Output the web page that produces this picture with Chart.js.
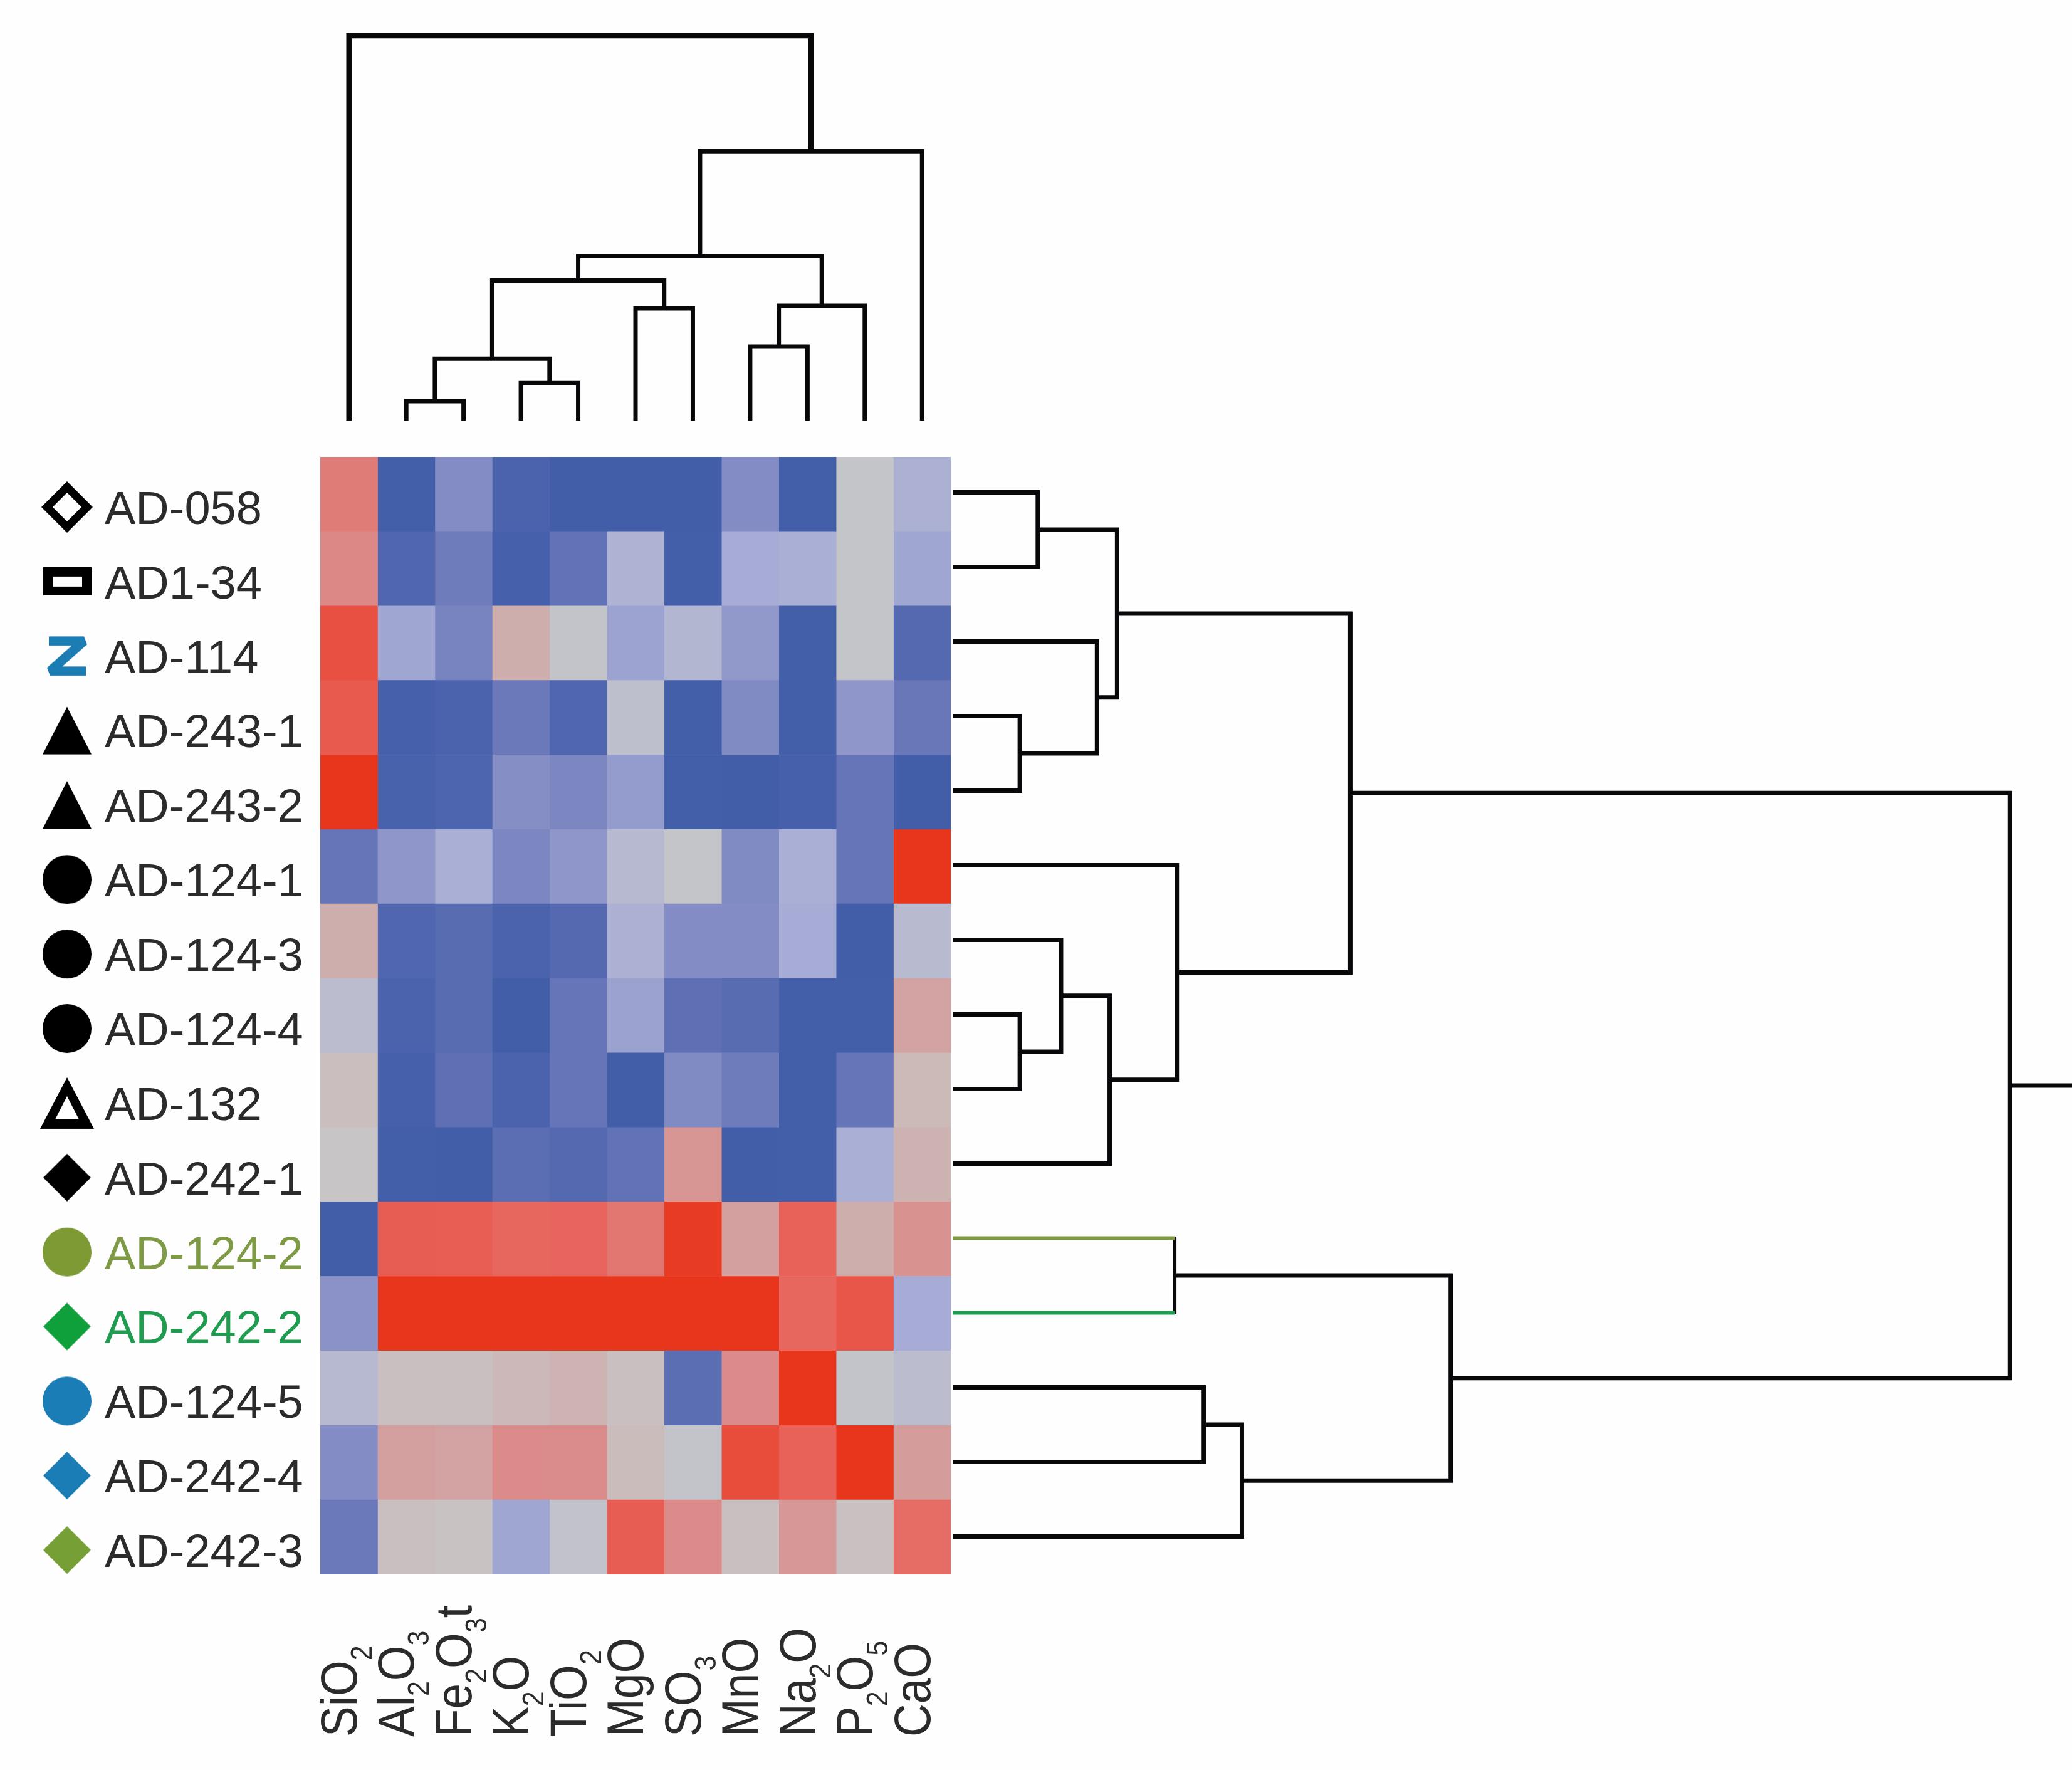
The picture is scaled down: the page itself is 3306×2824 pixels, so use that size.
<!DOCTYPE html>
<html>
<head>
<meta charset="utf-8">
<title>Oxide heatmap</title>
<script src="https://cdn.jsdelivr.net/npm/chart.js@4"></script>
<style>
  html, body { margin: 0; padding: 0; background: #fefefe; }
  #page { position: relative; width: 3306px; height: 2824px; overflow: hidden; }
  canvas { position: absolute; display: block; }
</style>
</head>
<body>
<div id="page">
  <canvas id="heat" width="1600" height="2824" style="left:0;top:0"></canvas>
  <canvas id="marks" width="110" height="2824" style="left:52px;top:0"></canvas>
  <canvas id="topTree" width="1040" height="660" style="left:500px;top:30px"></canvas>
  <canvas id="sideTree" width="1806" height="1860" style="left:1500px;top:700px"></canvas>
</div>
<script>
const oxides = ['SiO2', 'Al2O3', 'Fe2O3t', 'K2O', 'TiO2', 'MgO', 'SO3', 'MnO', 'Na2O', 'P2O5', 'CaO'];
const samples = ['AD-058', 'AD1-34', 'AD-114', 'AD-243-1', 'AD-243-2', 'AD-124-1', 'AD-124-3', 'AD-124-4',
                 'AD-132', 'AD-242-1', 'AD-124-2', 'AD-242-2', 'AD-124-5', 'AD-242-4', 'AD-242-3'];

// one row per sample, same order as oxides, -1 (blue) to 1 (red)
const cellValues = [
  [ .58, -.97, -.50, -.92, -.98, -.98, -.98, -.50, -.97, -.02, -.20],
  [ .50, -.88, -.65, -.95, -.75, -.18, -.97, -.25, -.22, -.02, -.30],
  [ .85, -.30, -.58,  .22, -.03, -.32, -.15, -.40, -.97, -.02, -.85],
  [ .80, -.95, -.92, -.68, -.88, -.07, -.97, -.52, -.97, -.42, -.70],
  [1.00, -.93, -.90, -.48, -.55, -.38, -.97, -.98, -.95, -.72, -.98],
  [-.72, -.42, -.22, -.55, -.42, -.12, -.02, -.52, -.22, -.72, 1.00],
  [ .22, -.88, -.82, -.92, -.85, -.20, -.50, -.50, -.25, -.98, -.10],
  [-.08, -.92, -.82, -.98, -.72, -.33, -.78, -.82, -.97, -.97,  .30],
  [ .08, -.95, -.78, -.92, -.72, -.98, -.52, -.65, -.97, -.72,  .12],
  [ .02, -.97, -.98, -.80, -.85, -.75,  .40, -.98, -.97, -.22,  .18],
  [-.98,  .78,  .77,  .72,  .73,  .62,  .97,  .32,  .75,  .22,  .42],
  [-.45, 1.00, 1.00, 1.00, 1.00, 1.00, 1.00, 1.00,  .72,  .82, -.25],
  [-.12,  .07,  .07,  .13,  .17,  .07, -.80,  .48, 1.00, -.03, -.08],
  [-.50,  .32,  .30,  .48,  .47,  .10, -.03,  .87,  .75, 1.00,  .35],
  [-.68,  .07,  .05, -.30, -.04,  .78,  .48,  .07,  .38,  .06,  .68]
];

// linkage tables: [child a, child b, height]; ids >= leaf count point at earlier merges
const oxideMerges = [
  [1, 2, 1.01], [3, 4, 1.95], [11, 12, 3.22], [5, 6, 5.83], [13, 14, 7.28],
  [7, 8, 3.84], [16, 9, 5.96], [15, 17, 8.55], [18, 10, 14.0], [0, 19, 20.0]
];
const sampleMerges = [
  [0, 1, 1.61], [3, 4, 1.27], [2, 16, 2.73], [15, 17, 3.11], [7, 8, 1.27],
  [6, 19, 2.05], [20, 9, 2.97], [5, 21, 4.24], [18, 22, 7.52], [10, 11, 4.20],
  [12, 13, 4.75], [25, 14, 5.47], [24, 26, 9.42], [23, 27, 20.0]
];

const sampleSymbols = ['diamondOpen', 'rectOpen', 'zed', 'triangle', 'triangle', 'circle', 'circle', 'circle',
                       'triangleOpen', 'diamond', 'circle', 'diamond', 'circle', 'diamond', 'diamond'];

const INK = '#08080b';
const TEXT = '#2b2b2b';
const OLIVE = '#7f9a45';
const GREEN = '#1f9c50';
const symbolColors = ['#000', '#000', '#1b7db4', '#000', '#000', '#000', '#000', '#000', '#000', '#000', '#7d9a35', '#0fa03c', '#1a7db5', '#1a7db5', '#76a035'];
const labelColors = samples.map(function (s) {
  return s === 'AD-124-2' ? OLIVE : s === 'AD-242-2' ? GREEN : TEXT;
});
const leafColors = { 10: OLIVE, 11: GREEN };

const colorStops = [
  [-1, [63, 92, 168]], [-.75, [98, 114, 182]], [-.5, [131, 140, 196]], [-.25, [166, 172, 214]],
  [-.1, [184, 187, 207]], [0, [199, 199, 200]], [.1, [203, 188, 188]], [.25, [207, 170, 169]],
  [.5, [220, 136, 134]], [.75, [232, 98, 90]], [1, [232, 54, 28]]
];

function cellColor(v) {
  for (var i = 1; i < colorStops.length; i++) {
    if (v <= colorStops[i][0]) {
      var a = colorStops[i - 1], b = colorStops[i];
      var t = (v - a[0]) / (b[0] - a[0]);
      var rgb = a[1].map(function (c, k) { return Math.round(c + (b[1][k] - c) * t); });
      return 'rgb(' + rgb.join(',') + ')';
    }
  }
  return 'rgb(232,54,28)';
}

function polygon(g, pts) {
  g.moveTo(pts[0][0], pts[0][1]);
  pts.slice(1).forEach(function (p) { g.lineTo(p[0], p[1]); });
  g.closePath();
}

function diamondPts(r) { return [[0, -r], [r, 0], [0, r], [-r, 0]]; }

// marker images, used as pointStyle on the scatter dataset
function makeSymbol(kind, color) {
  var c = document.createElement('canvas');
  c.width = 100; c.height = 100;
  var g = c.getContext('2d');
  g.translate(50, 50);
  g.fillStyle = color;
  g.strokeStyle = color;
  g.beginPath();
  if (kind === 'circle') {
    g.arc(0, 0, 39, 0, Math.PI * 2);
    g.fill();
  } else if (kind === 'diamond') {
    polygon(g, diamondPts(38));
    g.fill();
  } else if (kind === 'diamondOpen') {
    polygon(g, diamondPts(41));
    polygon(g, diamondPts(23));
    g.fill('evenodd');
  } else if (kind === 'rectOpen') {
    g.rect(-38, -23, 77, 45);
    g.rect(-23, -8, 47, 16);
    g.fill('evenodd');
  } else if (kind === 'triangle') {
    polygon(g, [[0, -38], [39, 38], [-39, 38]]);
    g.fill();
  } else if (kind === 'triangleOpen') {
    polygon(g, [[0, -41], [43, 41], [-43, 41]]);
    polygon(g, [[0, -11], [19, 26], [-19, 26]]);
    g.fill('evenodd');
  } else if (kind === 'zed') {
    g.lineWidth = 15;
    g.lineJoin = 'bevel';
    g.moveTo(-29, -24);
    g.lineTo(27, -24);
    g.lineTo(-27, 24);
    g.lineTo(30, 24);
    g.stroke();
  }
  return c;
}

// oxide names, digits set as subscripts, drawn under the columns reading upwards
const oxideLabels = {
  id: 'oxideLabels',
  afterDraw: function (chart) {
    var ctx = chart.ctx;
    var xs = chart.scales.x;
    var bottom = 2771;
    ctx.save();
    ctx.fillStyle = TEXT;
    ctx.textBaseline = 'alphabetic';
    ctx.textAlign = 'left';
    oxides.forEach(function (name, i) {
      var run = 0;
      name.match(/\d|\D+/g).forEach(function (part) {
        var sub = /\d/.test(part);
        ctx.save();
        ctx.translate(xs.getPixelForValue(i) + 58, bottom);
        ctx.rotate(-Math.PI / 2);
        ctx.font = (sub ? 43 : 73) + 'px "Liberation Sans"';
        var w = ctx.measureText(part).width;
        // the picture's glyphs stand a little taller than the font's
        ctx.translate(run, sub ? 24 : 0);
        ctx.scale(1, sub ? 1.1 : 1.12);
        ctx.fillText(part, 0, 0);
        run += w;
        ctx.restore();
      });
    });
    ctx.restore();
  }
};

var heatSets = oxides.map(function (ox, c) {
  return {
    label: ox,
    data: samples.map(function (s, r) { return { x: [c, c + 1], y: s, v: cellValues[r][c] }; }),
    backgroundColor: function (ctx) { return cellColor(ctx.raw.v); },
    borderWidth: 0,
    grouped: false,
    barPercentage: 1,
    categoryPercentage: 1
  };
});

new Chart(document.getElementById('heat'), {
  type: 'bar',
  data: { labels: samples, datasets: heatSets },
  plugins: [oxideLabels],
  options: {
    responsive: false,
    animation: false,
    indexAxis: 'y',
    layout: { padding: { left: 167, top: 729, right: 83, bottom: 312 } },
    plugins: { legend: { display: false }, tooltip: { enabled: false } },
    scales: {
      x: { type: 'linear', min: 0, max: 11, display: false },
      y: {
        type: 'category',
        labels: samples,
        offset: true,
        grid: { display: false },
        border: { display: false },
        afterFit: function (axis) { axis.width = 344; },
        ticks: {
          autoSkip: false,
          crossAlign: 'far',
          padding: 0,
          labelOffset: 27,
          color: function (ctx) { return labelColors[ctx.index]; },
          font: { family: '"Liberation Sans"', size: 74 }
        }
      }
    }
  }
});

// sample markers, their row runs a little below the heatmap row
new Chart(document.getElementById('marks'), {
  type: 'scatter',
  data: {
    datasets: [{
      label: 'samples',
      data: samples.map(function (s, r) { return { x: 0.5, y: r + 0.5 }; }),
      pointStyle: sampleSymbols.map(function (k, i) { return makeSymbol(k, symbolColors[i]); }),
      pointRadius: 40,
      clip: false
    }]
  },
  options: {
    responsive: false,
    animation: false,
    layout: { padding: { left: 0, right: 0, top: 729, bottom: 312 } },
    plugins: { legend: { display: false }, tooltip: { enabled: false } },
    scales: {
      x: { type: 'linear', display: false, min: 0, max: 1 },
      y: { type: 'linear', display: false, reverse: true, min: -0.1727, max: 14.8273 }
    }
  }
});

// turn a linkage table into line datasets; orient maps (position, height) to x/y
function treeSets(merges, leafCount, orient, colors, stemTo, rootWidth) {
  var pos = [], hgt = [], sets = [];
  for (var i = 0; i < leafCount; i++) { pos[i] = i + 0.5; hgt[i] = 0; }

  function line(points, color, width) {
    sets.push({
      data: points.map(function (p) { return orient(p[0], p[1]); }),
      borderColor: color,
      borderWidth: width,
      showLine: true,
      pointRadius: 0,
      borderJoinStyle: 'miter',
      clip: false
    });
  }

  merges.forEach(function (m, j) {
    var a = m[0], b = m[1], h = m[2];
    var width = (rootWidth && j === merges.length - 1) ? rootWidth : 7;
    if (colors[a] || colors[b]) {
      line([[pos[a], hgt[a]], [pos[a], h]], colors[a] || INK, 6);
      line([[pos[b], hgt[b]], [pos[b], h]], colors[b] || INK, 6);
      line([[pos[a] - 0.02, h], [pos[b] + 0.02, h]], INK, 5.5);
    } else {
      line([[pos[a], hgt[a]], [pos[a], h], [pos[b], h], [pos[b], hgt[b]]], INK, width);
    }
    pos[leafCount + j] = (pos[a] + pos[b]) / 2;
    hgt[leafCount + j] = h;
  });

  if (stemTo) {
    var root = leafCount + merges.length - 1;
    line([[pos[root], hgt[root]], [pos[root], stemTo]], INK, 7);
  }
  return sets;
}

function treeChart(id, sets, padding, xScale, yScale) {
  return new Chart(document.getElementById(id), {
    type: 'scatter',
    data: { datasets: sets },
    options: {
      responsive: false,
      animation: false,
      layout: { padding: padding },
      plugins: { legend: { display: false }, tooltip: { enabled: false } },
      scales: {
        x: Object.assign({ type: 'linear', display: false }, xScale),
        y: Object.assign({ type: 'linear', display: false }, yScale)
      }
    }
  });
}

treeChart('topTree',
  treeSets(oxideMerges, oxides.length, function (p, h) { return { x: p, y: h }; }, {}, null, 8.5),
  { left: 11, right: 23, top: 27, bottom: 19 },
  { min: 0, max: 11 },
  { min: 0, max: 20 });

treeChart('sideTree',
  treeSets(sampleMerges, samples.length, function (p, h) { return { x: h, y: p }; }, leafColors, 21.17, null),
  { left: 20, right: 0, top: 26, bottom: 49 },
  { min: 0, max: 21.17 },
  { min: 0, max: 15, reverse: true });
</script>
</body>
</html>
